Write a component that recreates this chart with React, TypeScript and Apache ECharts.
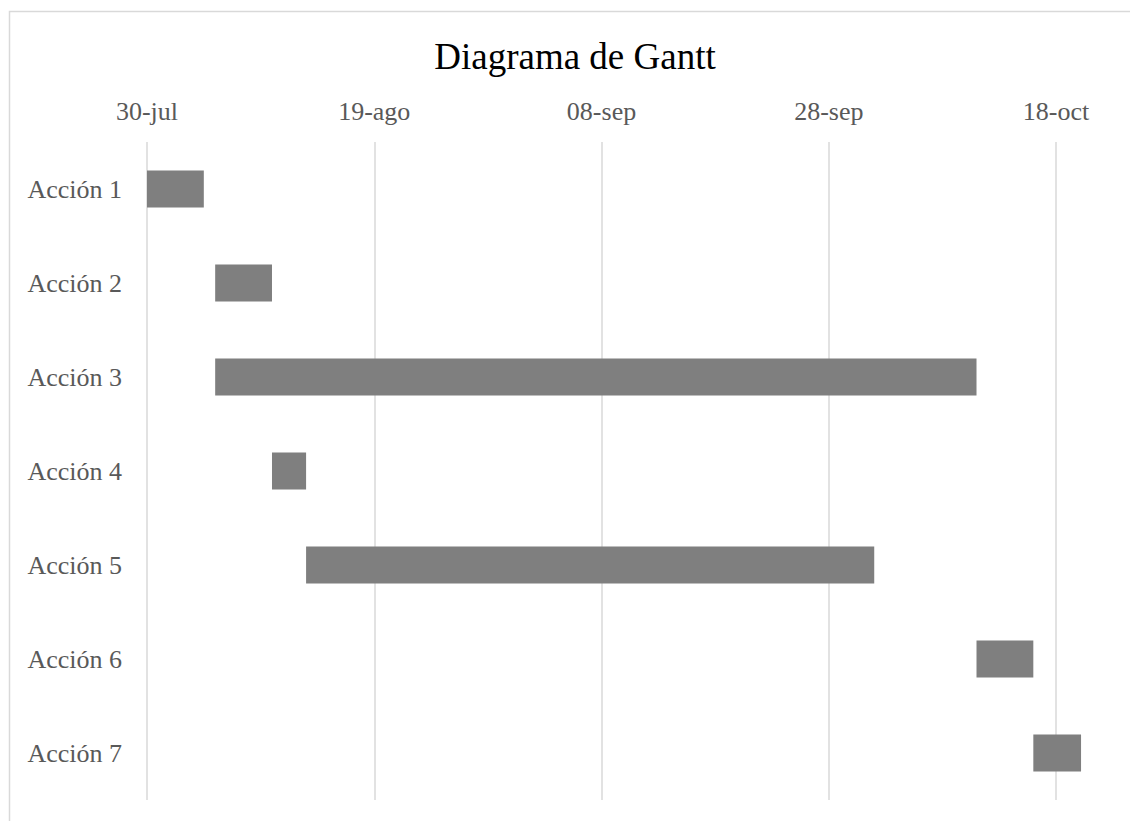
import React, { useEffect, useRef } from "react";
import * as echarts from "echarts";

const categories = ["Acción 1", "Acción 2", "Acción 3", "Acción 4", "Acción 5", "Acción 6", "Acción 7"];
// start dates (offset from 30-jul, as dates)
const startDates = ["2019-07-30", "2019-08-05", "2019-08-05", "2019-08-10", "2019-08-13", "2019-10-11", "2019-10-16"];
const durations = [5, 5, 67, 3, 50, 5, 4.2];
const axisStartDate = "2019-07-30";
const tickLabels = ["30-jul", "19-ago", "08-sep", "28-sep", "18-oct"];
const tickIntervalDays = 20;
const axisMaxDays = 84;

const DAY = 86400000;
const dayOffset = (d: string) => Math.round((Date.parse(d) - Date.parse(axisStartDate)) / DAY);
const startOffsets = startDates.map(dayOffset);

export default function App() {
  const ref = useRef<HTMLDivElement>(null);
  useEffect(() => {
    if (!ref.current) return;
    const chart = echarts.init(ref.current, undefined, { renderer: "svg" });
    const font = "'Liberation Serif', 'Times New Roman', serif";
    chart.setOption({
      animation: false,
      backgroundColor: "#ffffff",
      graphic: [
        {
          type: "rect",
          shape: { x: 9.5, y: 11.5, width: 1200, height: 900 },
          style: { fill: "none", stroke: "#d9d9d9", lineWidth: 1.5 },
          silent: true,
        },
        {
          type: "text",
          x: 575,
          y: 56,
          style: {
            text: "Diagrama de Gantt",
            fontFamily: font,
            fontSize: 37,
            fill: "#000000",
            textAlign: "center",
            textVerticalAlign: "middle",
          },
        },
      ],
      grid: { left: 147, right: 28.5, top: 142, bottom: 21, containLabel: false },
      xAxis: {
        type: "value",
        position: "top",
        min: 0,
        max: axisMaxDays,
        interval: tickIntervalDays,
        axisLine: { show: false },
        axisTick: { show: false },
        splitLine: { show: true, showMaxLine: false, lineStyle: { color: "#d9d9d9", width: 1.5 } },
        axisLabel: {
          showMaxLabel: false,
          margin: 18,
          fontFamily: font,
          fontSize: 26,
          color: "#595959",
          formatter: (v: number) => {
            const i = Math.round(v / tickIntervalDays);
            return v % tickIntervalDays === 0 && tickLabels[i] ? tickLabels[i] : "";
          },
        },
      },
      yAxis: {
        type: "category",
        data: categories,
        inverse: true,
        axisLine: { show: false },
        axisTick: { show: false },
        splitLine: { show: false },
        axisLabel: { margin: 25, fontFamily: font, fontSize: 26, color: "#595959" },
      },
      series: [
        {
          name: "Inicio",
          type: "bar",
          stack: "g",
          barWidth: 37,
          itemStyle: { color: "transparent" },
          emphasis: { disabled: true },
          data: startOffsets,
        },
        {
          name: "Duración",
          type: "bar",
          stack: "g",
          barWidth: 37,
          itemStyle: { color: "#7f7f7f" },
          data: durations,
        },
      ],
    });
    return () => chart.dispose();
  }, []);
  return (
    <div
      ref={ref}
      style={{ position: "fixed", left: 0, top: 0, width: 1130, height: 821 }}
    />
  );
}
